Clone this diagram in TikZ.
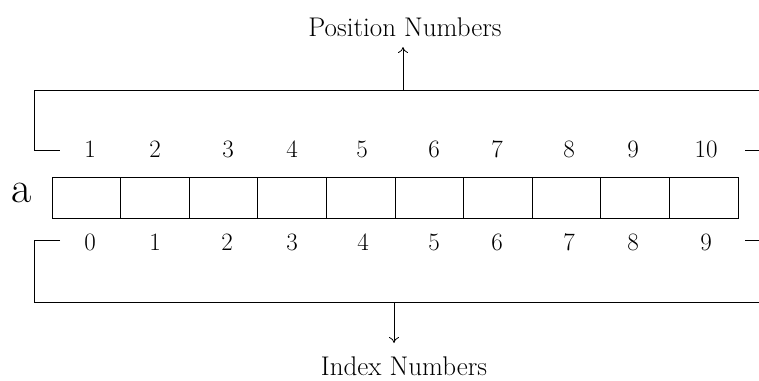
\documentclass[tikz,border=0pt]{standalone}
\usetikzlibrary{arrows.meta}
\begin{document}
\begin{tikzpicture}[x=1pt,y=-1pt,line width=0.8pt,
  cell/.style={draw,minimum width=68.6pt,minimum height=41pt,inner sep=0pt,outer sep=0pt},
  num/.style={inner sep=0pt,font=\fontsize{25}{29}\selectfont},
  lab/.style={inner sep=0pt,font=\fontsize{27}{31}\selectfont},
  arr/.style={-{To[length=6pt,width=10pt]}}]
\useasboundingbox (0,0) rectangle (759,380);
% array cells
\foreach \i in {0,...,9}{
  \node[cell] (c\i) at ({52+68.6*\i+34.3},197.5) {};
}
\node[inner sep=0pt,font=\fontsize{44}{50}\selectfont] (a) at (22,193) {a};
% position numbers (top)
\foreach \x [count=\n] in {90,155,228,292,362,434,497,569,633,706}{
  \node[num] (p\n) at (\x,149) {\n};
}
% index numbers (bottom)
\foreach \x [count=\n from 0] in {90,155,227,292,363,434,497,569,633,706}{
  \node[num] (q\n) at (\x,242) {\n};
}
% top bracket
\coordinate (t1) at (759,90);
\coordinate (t2) at (34,90);
\coordinate (t3) at (34,150);
\coordinate (t4) at (60,150);
\coordinate (t5) at (745,150);
\coordinate (t6) at (759,150);
\draw (t1) -- (t2) -- (t3) -- (t4);
\draw (t5) -- (t6);
% bottom bracket
\coordinate (b1) at (60,240);
\coordinate (b2) at (34,240);
\coordinate (b3) at (34,302);
\coordinate (b4) at (759,302);
\coordinate (b5) at (745,240);
\coordinate (b6) at (759,240);
\draw (b1) -- (b2) -- (b3) -- (b4);
\draw (b5) -- (b6);
% labels and arrows
\node[lab] (pos) at (405,27) {Position Numbers};
\node[lab] (idx) at (404,366) {Index Numbers};
\coordinate (pa) at (403,90);
\coordinate (pb) at (403,47);
\draw[arr] (pa) -- (pb);
\coordinate (ia) at (394,302);
\coordinate (ib) at (394,343);
\draw[arr] (ia) -- (ib);
\end{tikzpicture}
\end{document}
